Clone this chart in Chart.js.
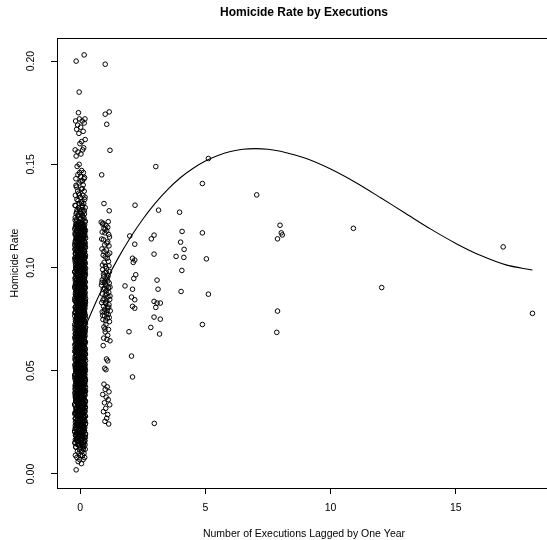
<!DOCTYPE html>
<html>
<head>
<meta charset="utf-8">
<title>Homicide Rate by Executions</title>
<script src="https://cdn.jsdelivr.net/npm/chart.js@4.4.1/dist/chart.umd.min.js"></script>
<style>
  html, body { margin: 0; padding: 0; overflow: hidden; background: #fff; }
  canvas { display: block; }
</style>
</head>
<body>
<canvas id="homicideChart" width="556" height="540"></canvas>
<script>
// Homicide rate against executions lagged one year (R-style base scatter + cubic fit)

// === data: [executions (jittered), homicide rate] ===
const noExecPoints = [
  [-0.16,0.002],[0.05,0.005],[-0.08,0.006],[0.12,0.007],[-0.02,0.007],[0.18,0.008],[-0.13,0.008],[0.02,0.009],[0.09,0.009],[-0.19,0.009],[0.15,0.010],[-0.05,0.010],
  [0.07,0.011],[-0.11,0.011],[0.2,0.012],[-0.03,0.012],[0.13,0.012],[-0.17,0.013],[0.01,0.013],[0.1,0.014],[-0.07,0.014],[0.16,0.015],[-0.21,0.015],[0.04,0.015],[-0.12,0.016],
  [0.19,0.016],[-0.01,0.017],[0.11,0.017],[-0.15,0.017],[0.06,0.018],[-0.09,0.018],[0.14,0.018],[-0.04,0.019],[0.21,0.019],[-0.18,0.019],[0.03,0.020],[0.09,0.020],[-0.13,0.020],
  [0.17,0.021],[-0.06,0.021],[0.0,0.021],[0.12,0.022],[-0.2,0.022],[0.08,0.022],[-0.1,0.023],[0.15,0.023],[-0.03,0.023],[0.2,0.024],[-0.15,0.024],[0.05,0.024],[-0.08,0.024],
  [0.13,0.025],[-0.19,0.025],[0.02,0.025],[0.1,0.026],[-0.12,0.026],[0.18,0.026],[-0.04,0.026],[0.07,0.027],[-0.17,0.027],[0.14,0.027],[-0.01,0.027],[0.21,0.028],[-0.09,0.028],
  [0.04,0.028],[-0.14,0.028],[0.11,0.029],[-0.21,0.029],[0.06,0.029],[-0.05,0.029],[0.16,0.030],[-0.11,0.030],[0.01,0.030],[0.09,0.030],[-0.18,0.030],[0.19,0.030],
  [-0.07,0.031],[0.13,0.031],[-0.16,0.031],[0.03,0.031],[0.2,0.032],[-0.02,0.032],[0.1,0.032],[-0.13,0.032],[0.06,0.033],[-0.2,0.033],[0.15,0.033],[-0.06,0.033],[0.0,0.034],
  [0.18,0.034],[-0.1,0.034],[0.08,0.034],[-0.17,0.035],[0.12,0.035],[-0.03,0.035],[0.21,0.035],[-0.12,0.036],[0.04,0.036],[0.16,0.036],[-0.08,0.036],[-0.19,0.037],[0.09,0.037],
  [-0.01,0.037],[0.14,0.037],[-0.15,0.038],[0.02,0.038],[0.19,0.038],[-0.05,0.038],[0.11,0.038],[-0.21,0.039],[0.07,0.039],[-0.09,0.039],[0.17,0.039],[-0.14,0.040],[0.01,0.040],
  [0.13,0.040],[-0.04,0.040],[0.2,0.040],[-0.11,0.040],[0.05,0.040],
  [-0.18,0.041],[0.1,0.041],[-0.02,0.041],[0.16,0.041],[-0.13,0.042],[0.03,0.042],[0.21,0.042],[-0.07,0.042],[0.08,0.043],[-0.2,0.043],[0.14,0.043],[-0.04,0.043],[0.0,0.044],
  [0.18,0.044],[-0.16,0.044],[0.06,0.044],[-0.1,0.045],[0.12,0.045],[-0.01,0.045],[0.2,0.045],[-0.14,0.045],[0.04,0.046],[0.15,0.046],[-0.08,0.046],[-0.19,0.046],[0.09,0.047],
  [-0.03,0.047],[0.17,0.047],[-0.12,0.047],[0.02,0.048],[0.11,0.048],[-0.06,0.048],[-0.21,0.048],[0.19,0.048],[0.07,0.049],[-0.15,0.049],[0.13,0.049],[-0.05,0.049],[0.01,0.049],
  [-0.09,0.050],[0.16,0.050],[-0.17,0.050],[0.05,0.050],[0.21,0.050],[-0.11,0.050],[0.1,0.050],
  [-0.02,0.051],[0.14,0.051],[-0.19,0.051],[0.07,0.051],[-0.08,0.052],[0.18,0.052],[0.02,0.052],[-0.14,0.052],[0.11,0.053],[-0.05,0.053],[0.2,0.053],[-0.21,0.053],[0.04,0.054],
  [-0.11,0.054],[0.15,0.054],[-0.01,0.054],[0.09,0.055],[-0.17,0.055],[0.13,0.055],[-0.06,0.055],[0.0,0.055],[0.19,0.056],[-0.13,0.056],[0.06,0.056],[-0.09,0.056],[0.16,0.057],
  [-0.2,0.057],[0.03,0.057],[0.12,0.057],[-0.03,0.058],[0.21,0.058],[-0.15,0.058],[0.08,0.058],[-0.07,0.058],[0.17,0.059],[-0.12,0.059],[0.01,0.059],[0.1,0.059],[-0.18,0.059],
  [-0.04,0.060],[0.14,0.060],[0.05,0.060],[-0.1,0.060],[0.2,0.060],[-0.16,0.060],[0.07,0.060],
  [-0.01,0.061],[0.16,0.061],[-0.2,0.061],[0.09,0.061],[-0.07,0.062],[0.12,0.062],[0.03,0.062],[-0.14,0.062],[0.19,0.063],[-0.04,0.063],[0.06,0.063],[-0.18,0.063],[0.14,0.064],
  [0.0,0.064],[-0.11,0.064],[0.21,0.064],[-0.06,0.065],[0.1,0.065],[-0.16,0.065],[0.04,0.065],[0.17,0.066],[-0.02,0.066],[-0.21,0.066],[0.08,0.066],[0.13,0.067],[-0.09,0.067],
  [0.01,0.067],[-0.13,0.067],[0.18,0.068],[-0.05,0.068],[0.11,0.068],[-0.19,0.068],[0.05,0.068],[-0.08,0.069],[0.2,0.069],[-0.15,0.069],[0.02,0.069],[0.15,0.070],[-0.03,0.070],
  [0.07,0.070],[-0.12,0.070],[-0.17,0.070],[0.12,0.070],[0.19,0.070],
  [-0.06,0.071],[0.1,0.071],[-0.2,0.071],[0.03,0.071],[0.16,0.072],[-0.1,0.072],[0.0,0.072],[-0.16,0.072],[0.13,0.073],[0.06,0.073],[-0.03,0.073],[0.21,0.073],[-0.13,0.074],
  [0.09,0.074],[-0.08,0.074],[0.18,0.074],[0.02,0.075],[-0.19,0.075],[0.11,0.075],[-0.05,0.075],[0.15,0.076],[-0.11,0.076],[0.05,0.076],[-0.01,0.076],[0.2,0.077],[-0.15,0.077],
  [0.08,0.077],[-0.07,0.077],[0.12,0.078],[-0.21,0.078],[0.01,0.078],[0.17,0.078],[-0.12,0.079],[0.04,0.079],[-0.04,0.079],[0.14,0.079],[-0.17,0.080],[0.07,0.080],[0.19,0.080],
  [-0.09,0.080],[0.0,0.080],[-0.14,0.080],
  [0.11,0.081],[-0.02,0.081],[0.18,0.081],[-0.18,0.081],[0.05,0.082],[-0.09,0.082],[0.14,0.082],[-0.05,0.082],[0.21,0.083],[-0.14,0.083],[0.02,0.083],[0.09,0.083],[-0.2,0.084],
  [0.16,0.084],[-0.07,0.084],[0.0,0.084],[0.12,0.085],[-0.11,0.085],[0.06,0.085],[-0.16,0.085],[0.19,0.086],[-0.03,0.086],[0.08,0.086],[-0.12,0.086],[0.15,0.087],[-0.19,0.087],
  [0.03,0.087],[-0.06,0.087],[0.2,0.088],[-0.13,0.088],[0.1,0.088],[-0.01,0.088],[0.13,0.089],[-0.17,0.089],[0.04,0.089],[-0.08,0.089],[0.17,0.090],[-0.21,0.090],[0.07,0.090],
  [-0.04,0.090],[0.12,0.090],[-0.1,0.090],
  [0.01,0.091],[0.19,0.091],[-0.15,0.091],[0.09,0.091],[-0.06,0.092],[0.15,0.092],[-0.19,0.092],[0.04,0.092],[-0.1,0.093],[0.21,0.093],[0.0,0.093],[0.11,0.093],[-0.14,0.094],
  [0.07,0.094],[-0.03,0.094],[0.17,0.094],[-0.2,0.095],[0.13,0.095],[-0.08,0.095],[0.02,0.095],[0.18,0.096],[-0.12,0.096],[0.06,0.096],[-0.05,0.096],[0.14,0.097],[-0.17,0.097],
  [0.1,0.097],[-0.01,0.097],[0.2,0.098],[-0.11,0.098],[0.03,0.098],[-0.21,0.098],[0.16,0.099],[-0.07,0.099],[0.08,0.099],[-0.16,0.099],[0.12,0.100],[-0.02,0.100],[0.05,0.100],
  [-0.13,0.100],[0.19,0.100],[-0.09,0.100],
  [0.14,0.101],[-0.18,0.101],[0.02,0.101],[-0.06,0.101],[0.1,0.102],[0.2,0.102],[-0.12,0.102],[0.05,0.102],[-0.2,0.103],[0.16,0.103],[-0.03,0.103],[0.08,0.103],[-0.15,0.104],
  [0.12,0.104],[0.0,0.104],[-0.09,0.104],[0.18,0.105],[-0.05,0.105],[0.06,0.105],[-0.17,0.105],[0.13,0.106],[-0.11,0.106],[0.03,0.106],[0.21,0.106],[-0.02,0.107],[0.09,0.107],
  [-0.19,0.107],[0.15,0.107],[-0.08,0.108],[0.01,0.108],[0.17,0.108],[-0.14,0.108],[0.11,0.109],[-0.04,0.109],[0.07,0.109],[-0.21,0.109],[0.19,0.110],[-0.1,0.110],[0.04,0.110],
  [-0.16,0.110],
  [0.13,0.111],[-0.07,0.111],[0.0,0.111],[0.2,0.112],[-0.13,0.112],[0.08,0.112],[-0.19,0.113],[0.16,0.113],[-0.03,0.113],[0.05,0.114],[-0.1,0.114],[0.11,0.114],[-0.16,0.115],
  [0.18,0.115],[0.02,0.115],[-0.06,0.116],[0.14,0.116],[-0.2,0.116],[0.09,0.117],[-0.12,0.117],[0.04,0.117],[0.21,0.118],[-0.02,0.118],[-0.15,0.118],[0.12,0.118],[0.07,0.119],
  [-0.09,0.119],[0.17,0.119],[-0.18,0.120],[0.01,0.120],[0.1,0.120],[-0.05,0.120],[0.15,0.120],[-0.11,0.120],
  [0.06,0.121],[-0.14,0.121],[0.19,0.122],[-0.04,0.122],[0.11,0.123],[-0.2,0.123],[0.02,0.124],[0.15,0.124],[-0.09,0.125],[0.08,0.125],[-0.16,0.126],[0.17,0.126],[-0.01,0.127],
  [0.12,0.127],[-0.12,0.128],[0.04,0.128],[0.2,0.129],[-0.07,0.129],[0.09,0.130],[-0.18,0.130],
  [0.14,0.131],[-0.03,0.131],[0.07,0.132],[-0.13,0.133],[0.18,0.133],[0.01,0.134],[-0.19,0.135],[0.11,0.135],[-0.06,0.136],[0.16,0.137],[-0.1,0.137],[0.05,0.138],[-0.15,0.139],
  [0.12,0.140],
  [-0.04,0.141],[0.09,0.142],[-0.17,0.143],[0.15,0.143],[0.02,0.144],[-0.09,0.145],[0.13,0.146],[-0.02,0.146],[0.06,0.147],[-0.12,0.149],
  [-0.04,0.150],[-0.16,0.154],[0.03,0.155],[-0.09,0.156],[-0.2,0.157],[0.1,0.157],[0.14,0.158],[-0.01,0.160],
  [0.06,0.161],[0.2,0.162],[-0.05,0.165],[0.12,0.166],[-0.14,0.167],[0.02,0.168],[-0.1,0.169],[0.16,0.170],
  [-0.18,0.171],[0.08,0.171],[-0.03,0.172],[0.19,0.172],[-0.07,0.175],
  [-0.04,0.185],[-0.16,0.200],[0.16,0.203],
  // second pass over the solid core of the no-execution column
  [0.085,0.0125],[-0.175,0.0131],[0.145,0.0133],[-0.025,0.0138],[0.195,0.0142],[-0.115,0.0143],[0.035,0.0149],[-0.205,0.0152],[0.115,0.0154],[-0.065,0.0159],
  [0.175,0.0163],[-0.145,0.0164],[0.015,0.0169],[-0.095,0.0174],[0.205,0.0176],[-0.035,0.0179],[0.065,0.0185],[-0.185,0.0186],[0.125,0.0191],[-0.005,0.0194],
  [-0.135,0.0197],[0.055,0.0201],[-0.215,0.0203],[0.165,0.0208],[-0.045,0.0211],[0.095,0.0213],[-0.165,0.0218],[0.025,0.0222],[0.185,0.0224],[-0.085,0.0229],
  [0.135,0.0232],[-0.195,0.0234],[0.005,0.0239],[-0.125,0.0243],[0.215,0.0245],[-0.055,0.0249],[0.075,0.0254],[-0.155,0.0256],[0.105,0.0259],[-0.015,0.0263],
  [0.045,0.0266],[-0.185,0.0269],[0.155,0.0273],[-0.075,0.0277],[0.205,0.0279],[-0.125,0.0284],[0.015,0.0287],[-0.035,0.0289],[0.115,0.0294],[-0.205,0.0297],
  [0.065,0.0301],[-0.145,0.0303],[0.185,0.0308],[-0.005,0.0312],[0.095,0.0314],[-0.165,0.0318],[0.135,0.0322],[-0.055,0.0324],[0.025,0.0328],[-0.105,0.0332],
  [0.175,0.0334],[-0.215,0.0338],[0.055,0.0342],[-0.025,0.0345],[0.125,0.0347],[-0.135,0.0352],[0.205,0.0355],[-0.075,0.0357],[0.005,0.0362],[-0.175,0.0365],
  [0.145,0.0367],[-0.045,0.0372],[0.085,0.0375],[-0.195,0.0378],[0.035,0.0381],[-0.115,0.0385],[0.165,0.0388],[-0.015,0.0391],[0.105,0.0395],[-0.155,0.0398],
  [0.215,0.0402],[-0.085,0.0404],[0.045,0.0409],[-0.205,0.0412],[0.125,0.0414],[-0.035,0.0419],[0.075,0.0423],[-0.125,0.0425],[0.185,0.0429],[-0.065,0.0433],
  [0.015,0.0435],[-0.165,0.0439],[0.155,0.0443],[-0.005,0.0446],[0.095,0.0448],[-0.185,0.0453],[0.055,0.0456],[-0.095,0.0458],[0.205,0.0463],[-0.145,0.0466],
  [0.135,0.0469],[-0.025,0.0472],[0.065,0.0476],[-0.215,0.0479],[0.025,0.0482],[-0.105,0.0486],[0.175,0.0489],[-0.055,0.0493],[0.115,0.0495],[-0.175,0.0499],
  [0.005,0.0503],[-0.135,0.0505],[0.195,0.0509],[-0.045,0.0513],[0.085,0.0516],[-0.195,0.0518],[0.145,0.0523],[-0.075,0.0526],[0.035,0.0528],[-0.155,0.0533],
  [0.165,0.0536],[-0.015,0.0538],[0.105,0.0543],[-0.115,0.0546],[0.215,0.0549],[-0.065,0.0552],[0.045,0.0556],[-0.205,0.0558],[0.125,0.0563],[-0.035,0.0566],
  [0.075,0.0568],[-0.165,0.0573],[0.185,0.0576],[-0.085,0.0579],[0.015,0.0582],[-0.125,0.0586],[0.155,0.0589],[-0.005,0.0592],[0.095,0.0596],[-0.185,0.0598],
  [0.055,0.0602],[-0.095,0.0606],[0.205,0.0608],[-0.145,0.0612],[0.025,0.0616],[-0.045,0.0618],[0.135,0.0623],[-0.215,0.0626],[0.065,0.0628],[-0.105,0.0633],
  [0.175,0.0636],[-0.025,0.0639],[0.115,0.0642],[-0.175,0.0646],[0.005,0.0649],[-0.055,0.0652],[0.145,0.0656],[-0.135,0.0658],[0.085,0.0663],[-0.195,0.0666],
  [0.195,0.0669],[-0.075,0.0672],[0.035,0.0676],[-0.155,0.0679],[0.165,0.0682],[-0.015,0.0686],[0.105,0.0689],[-0.115,0.0692],[0.045,0.0696],[-0.205,0.0698],
  [0.125,0.0702],[-0.065,0.0706],[0.215,0.0709],[-0.035,0.0712],[0.075,0.0716],[-0.165,0.0718],[0.015,0.0723],[-0.125,0.0726],[0.185,0.0729],[-0.085,0.0732],
  [0.095,0.0736],[-0.185,0.0739],[0.155,0.0742],[-0.005,0.0746],[0.055,0.0749],[-0.145,0.0752],[0.205,0.0756],[-0.045,0.0759],[0.025,0.0762],[-0.215,0.0766],
  [0.135,0.0769],[-0.095,0.0772],[0.065,0.0776],[-0.025,0.0779],[0.175,0.0782],[-0.175,0.0786],[0.115,0.0789],[-0.055,0.0792],[0.005,0.0796],[-0.135,0.0799],
  [0.145,0.0802],[-0.195,0.0806],[0.085,0.0809],[-0.075,0.0812],[0.195,0.0816],[-0.015,0.0819],[0.035,0.0822],[-0.155,0.0826],[0.165,0.0829],[-0.115,0.0832],
  [0.045,0.0836],[-0.205,0.0839],[0.105,0.0842],[-0.065,0.0846],[0.215,0.0849],[-0.035,0.0852],[0.125,0.0856],[-0.165,0.0859],[0.015,0.0862],[-0.125,0.0866],
  [0.185,0.0869],[-0.085,0.0872],[0.075,0.0876],[-0.185,0.0879],[0.155,0.0882],[-0.005,0.0886],[0.095,0.0889],[-0.145,0.0892],[0.055,0.0896],[-0.045,0.0899],
  [0.205,0.0902],[-0.215,0.0906],[0.025,0.0909],[-0.095,0.0912],[0.135,0.0916],[-0.025,0.0919],[0.065,0.0922],[-0.175,0.0926],[0.175,0.0929],[-0.055,0.0932],
  [0.115,0.0936],[-0.135,0.0939],[0.005,0.0942],[-0.195,0.0946],[0.145,0.0949],[-0.075,0.0952],[0.085,0.0956],[-0.015,0.0959],[0.195,0.0962],[-0.155,0.0966],
  [0.035,0.0969],[-0.115,0.0972],[0.165,0.0976],[-0.205,0.0979],[0.045,0.0982],[-0.065,0.0986],[0.105,0.0989],[-0.035,0.0992],[0.215,0.0996],[-0.165,0.0999],
  [0.125,0.1002],[-0.125,0.1006],[0.015,0.1009],[-0.085,0.1012],[0.185,0.1016],[-0.185,0.1019],[0.075,0.1022],[-0.005,0.1026],[0.155,0.1029],[-0.145,0.1032],
  [0.095,0.1036],[-0.045,0.1039],[0.055,0.1042],[-0.215,0.1046],[0.205,0.1049],[-0.095,0.1052],[0.025,0.1056],[-0.025,0.1059],[0.135,0.1062],[-0.175,0.1066],
  [0.065,0.1069],[-0.055,0.1072],[0.175,0.1076],[-0.135,0.1079],[0.115,0.1082],[-0.195,0.1086],[0.005,0.1089],[-0.075,0.1092],[0.145,0.1096],[-0.015,0.1099],
  [0.085,0.1102],[-0.155,0.1106],[0.195,0.1109],[-0.115,0.1112],[0.035,0.1116],[-0.205,0.1119],[0.165,0.1122],[-0.065,0.1126],[0.045,0.1129],[-0.035,0.1132],
  [0.105,0.1136],[-0.165,0.1139],[0.215,0.1142],[-0.125,0.1146],[0.015,0.1149],[-0.085,0.1152],[0.125,0.1156],[-0.185,0.1159],[0.075,0.1162],[-0.005,0.1166],
  [0.185,0.1169],[-0.145,0.1172],[0.055,0.1176],[-0.045,0.1179],[0.155,0.1182],[-0.215,0.1186],[0.095,0.1189],[-0.095,0.1192],[0.025,0.1196],[-0.025,0.1199],
  [0.135,0.1203],[-0.175,0.1208],[0.065,0.1213],[-0.055,0.1219],[0.205,0.1224],[-0.135,0.1231],[0.005,0.1237],[-0.195,0.1242],[0.115,0.1248],[-0.075,0.1255],
  [0.035,0.1262],[-0.145,0.1268],[0.165,0.1275],[-0.025,0.1283],[0.095,0.1292],[-0.205,0.1301],[0.055,0.1312],[-0.085,0.1324],[0.195,0.1341],[-0.035,0.1352],
  [0.085,0.1382],[-0.165,0.1398],[0.025,0.1418],[0.175,0.1436],
  // third pass, still inside the black core
  [0.142,0.0152],[-0.058,0.0157],[0.018,0.0161],[-0.192,0.0166],[0.098,0.0169],[-0.128,0.0174],[0.178,0.0178],[-0.012,0.0183],[0.062,0.0187],[-0.158,0.0191],
  [0.208,0.0196],[-0.088,0.0199],[0.038,0.0204],[-0.218,0.0208],[0.128,0.0213],[-0.038,0.0217],[0.082,0.0221],[-0.178,0.0226],[0.158,0.0229],[-0.108,0.0234],
  [0.002,0.0238],[-0.148,0.0243],[0.112,0.0247],[-0.068,0.0251],[0.188,0.0256],[-0.022,0.0259],[0.048,0.0264],[-0.198,0.0268],[0.168,0.0273],[-0.118,0.0277],
  [0.142,0.0281],[-0.058,0.0286],[0.018,0.0289],[-0.192,0.0294],[0.098,0.0298],[-0.128,0.0303],[0.178,0.0307],[-0.012,0.0311],[0.062,0.0316],[-0.158,0.0319],
  [0.208,0.0324],[-0.088,0.0328],[0.038,0.0333],[-0.218,0.0337],[0.128,0.0341],[-0.038,0.0346],[0.082,0.0349],[-0.178,0.0354],[0.158,0.0358],[-0.108,0.0363],
  [0.002,0.0367],[-0.148,0.0371],[0.112,0.0376],[-0.068,0.0379],[0.188,0.0384],[-0.022,0.0388],[0.048,0.0393],[-0.198,0.0397],[0.168,0.0401],[-0.118,0.0406],
  [0.142,0.0409],[-0.058,0.0414],[0.018,0.0418],[-0.192,0.0423],[0.098,0.0427],[-0.128,0.0431],[0.178,0.0436],[-0.012,0.0439],[0.062,0.0444],[-0.158,0.0448],
  [0.208,0.0453],[-0.088,0.0457],[0.038,0.0461],[-0.218,0.0466],[0.128,0.0469],[-0.038,0.0474],[0.082,0.0478],[-0.178,0.0483],[0.158,0.0487],[-0.108,0.0491],
  [0.002,0.0496],[-0.148,0.0499],[0.112,0.0504],[-0.068,0.0508],[0.188,0.0513],[-0.022,0.0517],[0.048,0.0521],[-0.198,0.0526],[0.168,0.0529],[-0.118,0.0534],
  [0.142,0.0538],[-0.058,0.0543],[0.018,0.0547],[-0.192,0.0551],[0.098,0.0556],[-0.128,0.0559],[0.178,0.0564],[-0.012,0.0568],[0.062,0.0573],[-0.158,0.0577],
  [0.208,0.0581],[-0.088,0.0586],[0.038,0.0589],[-0.218,0.0594],[0.128,0.0598],[-0.038,0.0603],[0.082,0.0607],[-0.178,0.0611],[0.158,0.0616],[-0.108,0.0619],
  [0.002,0.0624],[-0.148,0.0628],[0.112,0.0633],[-0.068,0.0637],[0.188,0.0641],[-0.022,0.0646],[0.048,0.0649],[-0.198,0.0654],[0.168,0.0658],[-0.118,0.0663],
  [0.142,0.0667],[-0.058,0.0671],[0.018,0.0676],[-0.192,0.0679],[0.098,0.0684],[-0.128,0.0688],[0.178,0.0693],[-0.012,0.0697],[0.062,0.0701],[-0.158,0.0706],
  [0.208,0.0709],[-0.088,0.0714],[0.038,0.0718],[-0.218,0.0723],[0.128,0.0727],[-0.038,0.0731],[0.082,0.0736],[-0.178,0.0739],[0.158,0.0744],[-0.108,0.0748],
  [0.002,0.0753],[-0.148,0.0757],[0.112,0.0761],[-0.068,0.0766],[0.188,0.0769],[-0.022,0.0774],[0.048,0.0778],[-0.198,0.0783],[0.168,0.0787],[-0.118,0.0791],
  [0.142,0.0796],[-0.058,0.0799],[0.018,0.0804],[-0.192,0.0808],[0.098,0.0813],[-0.128,0.0817],[0.178,0.0821],[-0.012,0.0826],[0.062,0.0829],[-0.158,0.0834],
  [0.208,0.0838],[-0.088,0.0843],[0.038,0.0847],[-0.218,0.0851],[0.128,0.0856],[-0.038,0.0859],[0.082,0.0864],[-0.178,0.0868],[0.158,0.0873],[-0.108,0.0877],
  [0.002,0.0881],[-0.148,0.0886],[0.112,0.0889],[-0.068,0.0894],[0.188,0.0898],[-0.022,0.0903],[0.048,0.0907],[-0.198,0.0911],[0.168,0.0916],[-0.118,0.0919],
  [0.142,0.0924],[-0.058,0.0928],[0.018,0.0933],[-0.192,0.0937],[0.098,0.0941],[-0.128,0.0946],[0.178,0.0949],[-0.012,0.0954],[0.062,0.0958],[-0.158,0.0963],
  [0.208,0.0967],[-0.088,0.0971],[0.038,0.0976],[-0.218,0.0979],[0.128,0.0984],[-0.038,0.0988],[0.082,0.0993],[-0.178,0.0997],[0.158,0.1001],[-0.108,0.1006],
  [0.002,0.1009],[-0.148,0.1014],[0.112,0.1018],[-0.068,0.1023],[0.188,0.1027],[-0.022,0.1031],[0.048,0.1036],[-0.198,0.1039],[0.168,0.1044],[-0.118,0.1048],
  [0.142,0.1053],[-0.058,0.1057],[0.018,0.1061],[-0.192,0.1066],[0.098,0.1069],[-0.128,0.1074],[0.178,0.1078],[-0.012,0.1083],[0.062,0.1087],[-0.158,0.1091],
  [0.208,0.1096],[-0.088,0.1099],[0.038,0.1104],[-0.218,0.1108],[0.128,0.1113],[-0.038,0.1117],[0.082,0.1121],[-0.178,0.1126],[0.158,0.1129],[-0.108,0.1134],
  [0.002,0.1138],[-0.148,0.1143],[0.112,0.1147],[-0.068,0.1151],[0.188,0.1156],[-0.022,0.1159],[0.048,0.1164],[-0.198,0.1168],[0.168,0.1173],[-0.118,0.1177],
  [0.142,0.1181],[-0.058,0.1186],[0.018,0.1189],[-0.192,0.1194],[0.098,0.1198],[-0.128,0.1203],[0.178,0.1207],[-0.012,0.1211],[0.062,0.1216],[-0.158,0.1221]
];

const oneExecPoints = [
  [1.0,0.1985],[1.16,0.1754],[1.0,0.1743],[1.06,0.1694],[1.19,0.1568],[0.86,0.1449],[0.95,0.131],[1.16,0.1275],
  [0.84,0.122],[0.9,0.121],[1.03,0.1205],[1.1,0.1195],[0.95,0.119],[1.06,0.1178],[0.88,0.1172],[1.14,0.116],[1.0,0.1186],
  [0.93,0.1135],[1.1,0.1125],[0.98,0.111],[1.15,0.1105],[0.87,0.109],[1.04,0.1085],[1.18,0.107],[0.92,0.106],
  [1.08,0.1045],[1.13,0.103],[0.96,0.1025],[1.01,0.1005],
  [1.05,0.0995],[0.9,0.099],[1.17,0.098],[0.99,0.0975],[1.12,0.0962],[0.94,0.0955],
  [1.03,0.0945],[0.88,0.094],[1.1,0.0935],[0.97,0.093],[1.16,0.0925],[1.0,0.092],[0.85,0.0915],[1.07,0.091],[1.19,0.0905],
  [0.92,0.0895],[1.04,0.0888],[1.14,0.088],[0.89,0.0872],[1.0,0.0865],[1.11,0.0858],[0.95,0.085],[1.18,0.0845],[1.06,0.0838],[0.86,0.083],
  [1.02,0.0825],[1.15,0.082],[0.93,0.0812],[1.09,0.0805],[0.98,0.0798],[1.2,0.079],[0.88,0.0785],[1.05,0.078],[1.12,0.0772],
  [0.97,0.0765],[1.08,0.0755],[0.91,0.0748],[1.17,0.0738],[1.03,0.0725],[0.95,0.0712],[1.13,0.07],[1.0,0.0688],[1.1,0.0672],[0.94,0.0658],[1.19,0.0645],
  [1.05,0.0557],[1.1,0.0548],[0.98,0.0512],[1.03,0.0505],
  [0.95,0.0435],[1.08,0.0422],[1.0,0.041],[1.15,0.0398],[0.9,0.0385],[1.04,0.0372],[1.12,0.036],[0.97,0.0345],[1.18,0.0335],[1.02,0.0318],
  [0.93,0.0302],[1.1,0.0288],[1.06,0.027],[0.99,0.0255],[1.14,0.0242],
  [0.91,0.1215],[1.12,0.1222],[0.99,0.1168],[1.17,0.1148],[0.86,0.1138],[1.07,0.1118],[0.95,0.1078],[1.11,0.1062],[1.0,0.1052],[0.89,0.1012],
  [1.15,0.1008],[1.04,0.0978],[0.93,0.0968],[1.09,0.0952],[0.87,0.0928],[1.13,0.0902],[0.98,0.0898],[1.06,0.0872],[1.19,0.0862],[0.91,0.0842],
  [1.01,0.0832],[1.14,0.0808],[0.96,0.0788],[1.08,0.0792],[0.9,0.0768],[1.16,0.0758],[1.02,0.0742],[0.99,0.0702],[1.07,0.0652],[0.92,0.0622]
];

const twoExecPoints = [
  [2.19,0.1302],[1.98,0.1153],[2.18,0.1113],[2.09,0.1045],[2.18,0.1036],[2.12,0.1025],[2.22,0.0965],[2.14,0.0947],[2.09,0.0895],
  [2.05,0.0857],[2.18,0.0844],[2.09,0.0812],[2.18,0.0803],[1.79,0.0911],[1.95,0.0689],[2.05,0.0571],[2.09,0.047]
];

const manyExecPoints = [
  [3.02,0.1489],[3.13,0.1278],[2.95,0.1157],[2.84,0.1139],[2.95,0.1065],[3.07,0.0939],[3.11,0.0895],[2.95,0.0836],
  [3.07,0.0828],[3.2,0.0828],[3.02,0.0807],[2.95,0.076],[3.2,0.075],[2.82,0.071],[3.17,0.0678],[2.96,0.0245],
  [3.97,0.1268],[4.07,0.1175],[4.01,0.1123],[4.15,0.1088],[3.83,0.1054],[4.14,0.1049],[4.06,0.0986],[4.03,0.0884],
  [5.12,0.1528],[4.88,0.1407],[4.88,0.1168],[5.04,0.1042],[5.12,0.0871],[4.88,0.0724],
  [7.05,0.1352],
  [7.98,0.1205],[8.03,0.1168],[8.07,0.1158],[7.88,0.1139],[7.88,0.0789],[7.85,0.0686],
  [10.91,0.119],[12.04,0.0903],[16.89,0.110],[18.06,0.0778]
];

// fitted curve
const curveX = [-0.2, 0, 0.5, 1, 1.5, 2, 2.5, 3, 3.5, 4, 4.5, 5, 5.5, 6, 6.5, 7, 7.5, 8, 9, 10, 11, 12, 13, 14, 15, 16, 17, 18, 18.06];
const curveY = [0.0593, 0.0654, 0.0797, 0.0927, 0.1042, 0.1144, 0.1234, 0.1312, 0.1379, 0.1435, 0.148, 0.1516, 0.1543, 0.1562,
                0.1573, 0.1576, 0.1573, 0.1563, 0.1529, 0.1477, 0.1412, 0.1338, 0.1262, 0.1186, 0.1117, 0.1058, 0.1013, 0.0989, 0.0988];

// axes
const xTicks = [0, 5, 10, 15];
const yTicks = [0, 0.05, 0.10, 0.15, 0.20];
const yTickLabels = ["0.00", "0.05", "0.10", "0.15", "0.20"];
const X_MIN = -0.925, X_MAX = 18.8;
const Y_MIN = -0.0068, Y_MAX = 0.2112;

const TITLE = "Homicide Rate by Executions";
const X_LABEL = "Number of Executions Lagged by One Year";
const Y_LABEL = "Homicide Rate";

// === build chart ===
const FONT = '"Liberation Sans", Arial, Helvetica, sans-serif';
Chart.defaults.font.family = FONT;
Chart.defaults.color = "#000";

const toXY = pts => pts.map(p => ({ x: p[0], y: p[1] }));
const scatterData = toXY([...noExecPoints, ...oneExecPoints, ...twoExecPoints, ...manyExecPoints]);
const curveData = curveX.map((x, i) => ({ x: x, y: curveY[i] }));

// box round the plot region + main title, like R's box() and title()
const frameAndTitle = {
  id: "frameAndTitle",
  afterDraw(chart) {
    const { ctx, chartArea: a } = chart;
    ctx.save();
    ctx.strokeStyle = "#000";
    ctx.lineWidth = 1;
    ctx.strokeRect(Math.round(a.left) + 0.5, Math.round(a.top) + 0.5,
                   Math.round(a.right - a.left), Math.round(a.bottom - a.top));
    ctx.fillStyle = "#000";
    ctx.font = "bold 12px " + FONT;
    ctx.textAlign = "center";
    ctx.textBaseline = "middle";
    ctx.fillText(TITLE, (a.left + a.right) / 2, 13);
    ctx.restore();
  }
};

const ctx = document.getElementById("homicideChart").getContext("2d");
new Chart(ctx, {
  type: "scatter",
  data: {
    datasets: [
      {
        type: "line",
        label: "fit",
        data: curveData,
        borderColor: "#000",
        borderWidth: 1.1,
        pointRadius: 0,
        tension: 0.3,
        fill: false,
        order: 0
      },
      {
        label: "states",
        data: scatterData,
        pointRadius: 2.3,
        pointBorderWidth: 1,
        pointBorderColor: "#000",
        pointBackgroundColor: "rgba(0,0,0,0)",
        order: 1
      }
    ]
  },
  options: {
    responsive: false,
    animation: false,
    layout: { padding: { top: 38, right: 2, bottom: 0, left: 0 } },
    plugins: {
      legend: { display: false },
      title: { display: false },
      tooltip: { enabled: false }
    },
    scales: {
      x: {
        type: "linear",
        min: X_MIN,
        max: X_MAX,
        afterBuildTicks: s => { s.ticks = xTicks.map(v => ({ value: v })); },
        afterFit: s => { s.height = 52; },
        ticks: { padding: 8, font: { size: 10.5 }, color: "#000", autoSkip: false, maxRotation: 0 },
        grid: { drawOnChartArea: false, drawTicks: true, tickLength: 6, color: "#000" },
        border: { display: true, color: "#000" },
        title: { display: true, text: X_LABEL, font: { size: 10.5 }, color: "#000", padding: { top: 0, bottom: 0 } }
      },
      y: {
        type: "linear",
        min: Y_MIN,
        max: Y_MAX,
        afterBuildTicks: s => { s.ticks = yTicks.map(v => ({ value: v })); },
        afterFit: s => { s.width = 57; },
        ticks: {
          minRotation: 90, maxRotation: 90, crossAlign: "center", padding: 10,
          font: { size: 10.5 }, color: "#000", autoSkip: false,
          callback: (v, i) => yTickLabels[i]
        },
        grid: { drawOnChartArea: false, drawTicks: true, tickLength: 6, color: "#000" },
        border: { display: true, color: "#000" },
        title: { display: true, text: Y_LABEL, font: { size: 10.5 }, color: "#000", padding: { top: 9, bottom: 0 } }
      }
    }
  },
  plugins: [frameAndTitle]
});
</script>
</body>
</html>
